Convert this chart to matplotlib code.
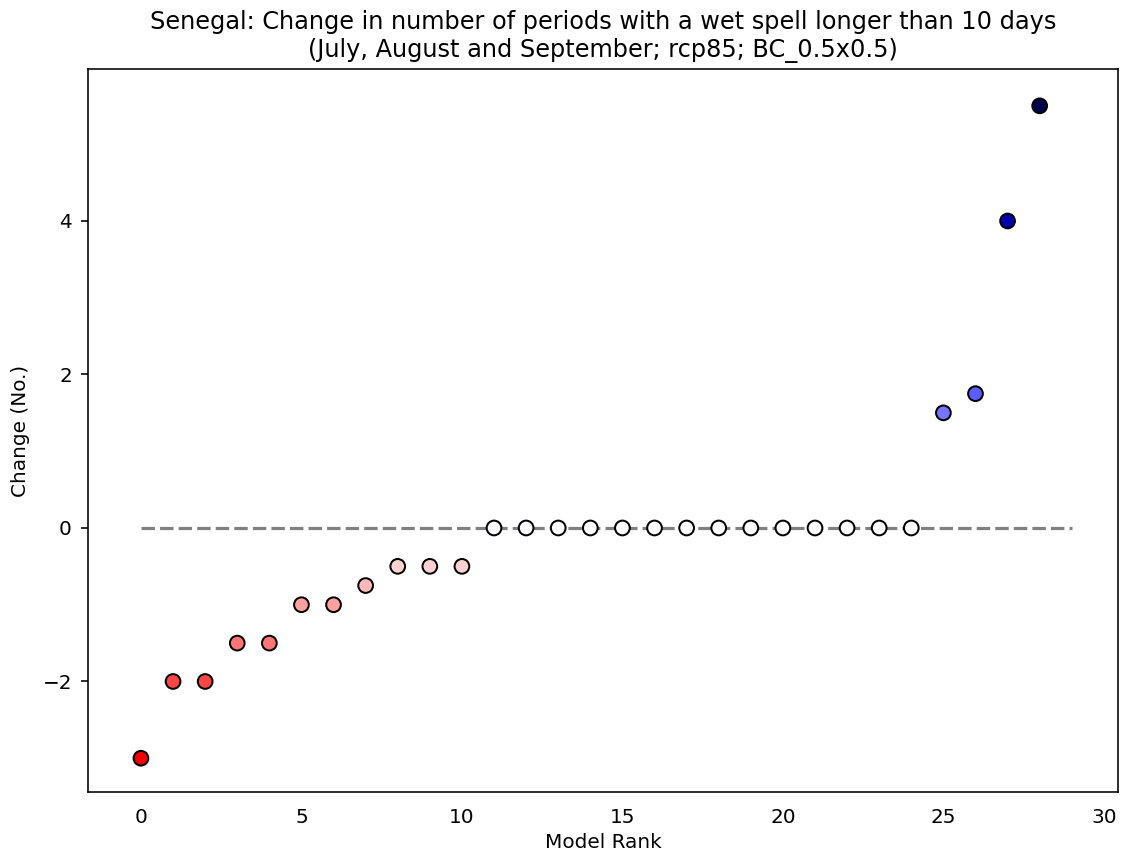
import matplotlib
matplotlib.use("Agg")
import matplotlib.pyplot as plt
import numpy as np

ranks = list(range(29))
values = [-3, -2, -2, -1.5, -1.5, -1, -1, -0.75, -0.5, -0.5, -0.5,
          0, 0, 0, 0, 0, 0, 0, 0, 0, 0, 0, 0, 0, 0,
          1.5, 1.75, 4, 5.5]
line_x = [0, 29]
line_y = [0, 0]

DPI = 144
fig = plt.figure(figsize=(1121/DPI, 861/DPI), dpi=DPI)
ax = fig.add_axes([88/1121, 1-792/861, (1118-88)/1121, (792-69)/861])

ax.plot(line_x, line_y, linestyle='--', color='gray', linewidth=1.6,
        dashes=(4.2, 1.6), zorder=1)
vmax = max(abs(v) for v in values)
ax.scatter(ranks, values, c=values, cmap='seismic_r', vmin=-vmax, vmax=vmax,
           s=54, edgecolors='black', linewidths=1.0, zorder=3)

ax.set_xlim(-1.65, 30.44)
ax.set_ylim(-3.44, 5.98)
ax.set_xticks([0, 5, 10, 15, 20, 25, 30])
ax.set_yticks([-2, 0, 2, 4])
ax.set_yticklabels(['\u22122', '0', '2', '4'])
ax.tick_params(axis='x', length=0, pad=8)
ax.tick_params(axis='y', length=3.5, pad=4.5)
for s in ax.spines.values():
    s.set_color('black')
ax.set_xlabel('Model Rank', labelpad=3)
ax.set_ylabel('Change (No.)', labelpad=6)
ax.set_title('Senegal: Change in number of periods with a wet spell longer than 10 days\n'
             '(July, August and September; rcp85; BC_0.5x0.5)', pad=6)

fig.savefig('out.png', dpi=DPI)
